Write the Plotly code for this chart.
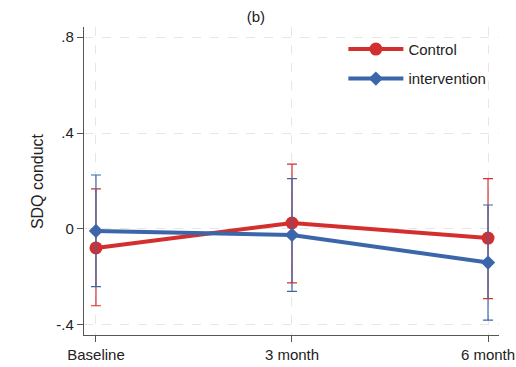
import plotly.graph_objects as go

categories = ["Baseline", "3 month", "6 month"]
x_pos = [0, 1, 2]

control_mean = [-0.079, 0.025, -0.038]
control_upper = [0.167, 0.270, 0.210]
control_lower = [-0.320, -0.225, -0.290]

interv_mean = [-0.008, -0.025, -0.140]
interv_upper = [0.225, 0.210, 0.100]
interv_lower = [-0.240, -0.260, -0.380]

y_ticks = [-0.4, 0, 0.4, 0.8]
y_tick_labels = ["-.4", "0", ".4", ".8"]

RED = "#d32f2f"
BLUE = "#3b66aa"

fig = go.Figure()

def add_series(name, mean, upper, lower, color, symbol, size, group):
    fig.add_trace(go.Scatter(
        x=x_pos, y=mean, name=name, mode="lines+markers",
        legendgroup=group,
        line=dict(color=color, width=4),
        marker=dict(color=color, symbol=symbol, size=size),
        error_y=dict(type="data", symmetric=False,
                     array=[u - m for u, m in zip(upper, mean)],
                     arrayminus=[m - l for m, l in zip(mean, lower)],
                     color=color, thickness=1.2, width=5),
    ))

add_series("Control", control_mean, control_upper, control_lower, RED, "circle", 13, "a")
add_series("intervention", interv_mean, interv_upper, interv_lower, BLUE, "diamond", 11, "b")

grid = dict(showgrid=True, gridcolor="#e6e6e6", gridwidth=1, griddash="dash")

fig.update_layout(
    width=516, height=367,
    margin=dict(l=84, r=17, t=27, b=32),
    paper_bgcolor="white", plot_bgcolor="white",
    font=dict(family="Liberation Sans, Arial, sans-serif", size=15, color="#222"),
    title=dict(text="(b)", x=0.496, xanchor="center", y=0.953, yanchor="middle",
               font=dict(size=15, color="#222")),
    legend=dict(x=0.625, y=0.981, xanchor="left", yanchor="top",
                bgcolor="rgba(0,0,0,0)", tracegroupgap=7, itemwidth=55,
                font=dict(size=15, color="#222")),
    xaxis=dict(range=[-0.061, 2.056], tickvals=x_pos, ticktext=categories,
               showline=True, linecolor="#555", linewidth=1.3,
               ticks="outside", ticklen=6, tickcolor="#555",
               zeroline=False, automargin=False, **grid),
    yaxis=dict(range=[-0.442, 0.842], tickvals=y_ticks, ticktext=y_tick_labels,
               showline=True, linecolor="#555", linewidth=1.3,
               ticks="outside", ticklen=6, tickcolor="#555",
               zeroline=False, automargin=False, **grid),
    annotations=[dict(text="SDQ conduct", textangle=-90, xref="paper", yref="paper",
                      x=-0.113, y=0.5, xanchor="center", yanchor="middle",
                      showarrow=False, font=dict(size=16, color="#222"))],
)

fig.write_html(
    "out.html",
    config={"displayModeBar": False},
    post_script="document.body.style.margin='0';document.body.style.overflow='hidden';",
)
